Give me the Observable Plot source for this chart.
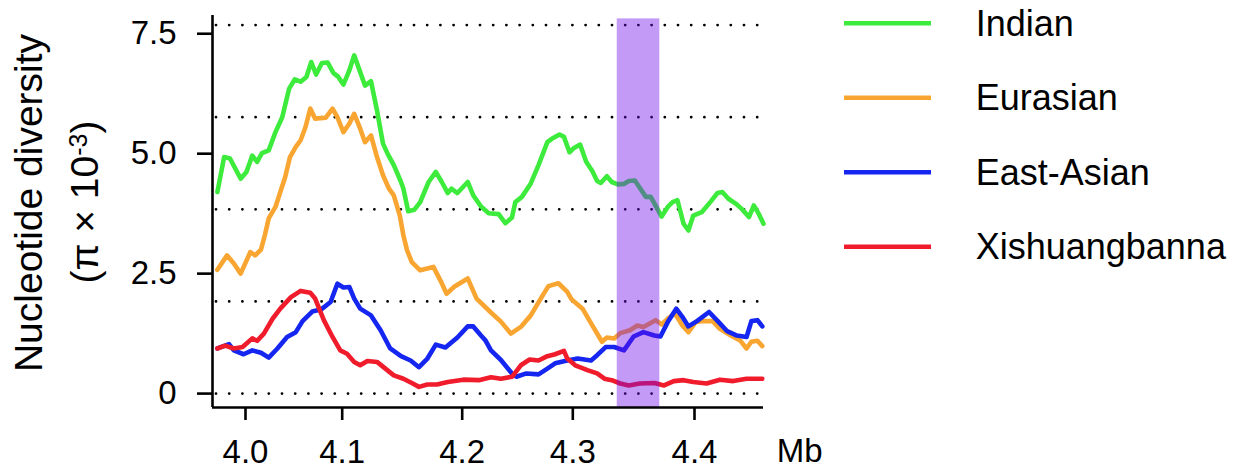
<!DOCTYPE html>
<html>
<head>
<meta charset="utf-8">
<script src="https://cdn.jsdelivr.net/npm/d3@7"></script>
<script src="https://cdn.jsdelivr.net/npm/@observablehq/plot@0.6"></script>
<style>
  html, body { margin: 0; padding: 0; background: #fff; }
  #chart svg { display: block; }
</style>
</head>
<body>
<div id="chart"></div>
<script>
// Populations and their line colours (legend order = drawing order)
const populations = ["Indian", "Eurasian", "East-Asian", "Xishuangbanna"];
const lineColors = ["#3deb3d", "#f9a532", "#1426ef", "#f01c2c"];

// Sliding-window nucleotide diversity (pi x 10^-3) along the chromosome (Mb)
const indianMb = [3.971,3.978,3.984,3.995,4.001,4.007,4.012,4.017,4.024,4.031,4.038,4.045,4.051,4.057,4.063,4.068,4.073,4.079,4.085,4.091,4.096,4.101,4.106,4.110,4.115,4.119,4.124,4.129,4.134,4.138,4.143,4.149,4.151,4.155,4.160,4.165,4.172,4.178,4.183,4.188,4.191,4.196,4.205,4.210,4.217,4.224,4.233,4.239,4.245,4.248,4.254,4.262,4.269,4.277,4.281,4.288,4.292,4.297,4.301,4.306,4.311,4.316,4.320,4.323,4.328,4.332,4.337,4.342,4.346,4.351,4.355,4.360,4.364,4.368,4.373,4.378,4.382,4.386,4.391,4.395,4.399,4.406,4.413,4.419,4.423,4.428,4.434,4.439,4.445,4.449,4.453,4.457];
const indianPi = [4.20,4.93,4.90,4.48,4.62,4.96,4.83,5.01,5.07,5.45,5.76,6.35,6.55,6.50,6.60,6.91,6.65,6.89,6.90,6.68,6.60,6.44,6.74,7.05,6.70,6.42,6.51,5.90,5.21,4.99,4.76,4.41,4.27,3.80,3.83,3.99,4.41,4.62,4.41,4.18,4.27,4.18,4.41,4.13,3.90,3.76,3.74,3.55,3.67,3.99,4.10,4.38,4.76,5.24,5.31,5.40,5.35,5.03,5.12,5.19,4.83,4.64,4.43,4.39,4.53,4.41,4.36,4.37,4.43,4.44,4.29,4.10,4.10,3.92,3.69,3.89,3.99,4.03,3.54,3.40,3.71,3.78,3.99,4.18,4.20,4.06,3.96,3.85,3.68,3.92,3.75,3.54];

const eurasianMb = [3.971,3.981,3.988,3.995,4.005,4.010,4.016,4.020,4.024,4.031,4.036,4.041,4.046,4.052,4.057,4.062,4.067,4.072,4.083,4.090,4.095,4.101,4.106,4.110,4.115,4.119,4.124,4.129,4.134,4.139,4.143,4.148,4.151,4.154,4.158,4.165,4.176,4.182,4.187,4.193,4.205,4.213,4.226,4.235,4.244,4.253,4.262,4.271,4.278,4.287,4.295,4.299,4.308,4.316,4.324,4.328,4.334,4.339,4.347,4.353,4.358,4.368,4.373,4.378,4.384,4.390,4.395,4.401,4.406,4.415,4.421,4.430,4.438,4.443,4.447,4.452,4.456];
const eurasianPi = [2.58,2.88,2.71,2.50,2.95,2.88,3.00,3.30,3.65,3.89,4.20,4.51,4.93,5.14,5.28,5.55,5.94,5.73,5.75,5.94,5.76,5.45,5.63,5.83,5.52,5.24,5.38,4.93,4.55,4.27,4.13,3.71,3.30,2.99,2.74,2.57,2.64,2.35,2.08,2.22,2.40,1.98,1.69,1.50,1.25,1.39,1.63,1.98,2.24,2.30,2.12,1.96,1.77,1.42,1.08,1.17,1.15,1.26,1.32,1.42,1.39,1.53,1.44,1.56,1.67,1.42,1.28,1.49,1.51,1.51,1.35,1.21,1.10,0.94,1.08,1.10,0.99];

const eastAsianMb = [3.971,3.976,3.983,3.988,3.998,4.007,4.016,4.024,4.033,4.043,4.052,4.059,4.069,4.078,4.088,4.095,4.101,4.106,4.110,4.115,4.124,4.132,4.140,4.149,4.157,4.164,4.171,4.178,4.186,4.196,4.205,4.210,4.217,4.221,4.226,4.235,4.245,4.249,4.258,4.269,4.277,4.284,4.295,4.304,4.315,4.320,4.327,4.334,4.342,4.350,4.358,4.367,4.372,4.378,4.385,4.390,4.395,4.402,4.412,4.420,4.427,4.435,4.443,4.447,4.452,4.456];
const eastAsianPi = [0.94,0.98,1.03,0.90,0.82,0.90,0.85,0.75,0.94,1.18,1.28,1.51,1.71,1.75,1.91,2.29,2.21,2.22,1.98,1.77,1.63,1.32,0.94,0.78,0.69,0.55,0.73,1.02,0.96,1.17,1.40,1.40,1.21,1.11,0.90,0.70,0.42,0.35,0.42,0.40,0.52,0.63,0.69,0.73,0.69,0.80,0.97,0.97,0.90,1.19,1.28,1.21,1.19,1.49,1.77,1.60,1.40,1.51,1.70,1.49,1.30,1.21,1.18,1.51,1.53,1.40];

const xishuangbannaMb = [3.971,3.979,3.988,3.997,4.007,4.012,4.019,4.028,4.036,4.047,4.057,4.067,4.072,4.081,4.090,4.098,4.104,4.110,4.115,4.121,4.129,4.136,4.143,4.151,4.158,4.164,4.171,4.179,4.188,4.201,4.215,4.226,4.235,4.245,4.253,4.261,4.269,4.277,4.284,4.292,4.295,4.302,4.312,4.320,4.326,4.332,4.339,4.346,4.355,4.367,4.375,4.383,4.391,4.399,4.410,4.421,4.432,4.443,4.456];
const xishuangbannaPi = [0.94,1.00,0.94,0.97,1.15,1.10,1.25,1.56,1.77,2.01,2.14,2.10,1.98,1.53,1.18,0.90,0.83,0.66,0.59,0.68,0.66,0.52,0.38,0.31,0.22,0.14,0.19,0.19,0.24,0.29,0.28,0.34,0.31,0.35,0.59,0.71,0.69,0.78,0.82,0.89,0.73,0.59,0.49,0.42,0.31,0.28,0.21,0.17,0.21,0.22,0.17,0.26,0.28,0.24,0.21,0.29,0.26,0.31,0.31];

// Axis ticks, dotted reference levels and the highlighted candidate region
const xTicks = [4.0, 4.1, 4.2, 4.3, 4.4];
const yTicks = [0, 2.5, 5.0, 7.5];
const referenceLevels = [0, 1.92, 3.84, 5.76, 7.68];
const regionStartMb = 4.3365;
const regionEndMb = 4.3715;
const regionTopPi = 7.81;

const seriesMb = [indianMb, eurasianMb, eastAsianMb, xishuangbannaMb];
const seriesPi = [indianPi, eurasianPi, eastAsianPi, xishuangbannaPi];
const rows = populations.flatMap((population, k) =>
  seriesMb[k].map((mb, i) => ({population, mb, pi: seriesPi[k][i]}))
);

const yDomain = [-0.29, 7.88];
// window positions are unevenly spaced along the axis, so the Mb scale is piecewise
const xDomain = [3.966, 4.0, 4.1, 4.2, 4.3, 4.4, 4.457];

const font = "'Liberation Sans', Arial, Helvetica, sans-serif";

const chart = Plot.plot({
  width: 1244,
  height: 469,
  marginLeft: 212,
  marginRight: 481,
  marginTop: 15,
  marginBottom: 62,
  style: {fontFamily: font, fontSize: "33px", color: "#000", background: "#fff"},
  x: {type: "linear", domain: xDomain, range: [212, 245, 341.7, 461.7, 572.3, 694, 763]},
  y: {domain: yDomain},
  color: {domain: populations, range: lineColors},
  marks: [
    Plot.ruleY(referenceLevels, {
      stroke: "#000", strokeWidth: 2.8, strokeDasharray: "0 13.2",
      strokeLinecap: "round", insetLeft: 4, insetRight: 4
    }),
    Plot.line(rows, {
      x: "mb", y: "pi", z: "population", stroke: "population",
      strokeWidth: 4.6, strokeLinejoin: "round", strokeLinecap: "round"
    }),
    Plot.rect([{start: regionStartMb, end: regionEndMb}], {
      x1: "start", x2: "end", y1: yDomain[0], y2: regionTopPi,
      fill: "rgb(111, 9, 235)", fillOpacity: 0.41
    }),
    Plot.ruleX([xDomain[0]], {stroke: "#000", strokeWidth: 2.6}),
    Plot.ruleY([yDomain[0]], {stroke: "#000", strokeWidth: 2.6}),
    Plot.axisY(yTicks, {
      anchor: "left", label: null, tickSize: 15, tickPadding: 21,
      strokeWidth: 2.6, fontSize: 33,
      tickFormat: d => d === 0 ? "0" : d.toFixed(1)
    }),
    Plot.axisX(xTicks, {
      anchor: "bottom", label: null, tickSize: 13, tickPadding: 19,
      strokeWidth: 2.6, fontSize: 33,
      tickFormat: d => d.toFixed(1)
    })
  ]
});

document.getElementById("chart").appendChild(chart);

const svg = d3.select(chart);
const color = chart.scale("color");

// y-axis title (two lines, rotated)
svg.append("text")
  .attr("transform", "translate(41.7,203) rotate(-90)")
  .attr("text-anchor", "middle")
  .attr("font-family", font)
  .attr("font-size", 39)
  .attr("fill", "#000")
  .text("Nucleotide diversity");

const sub = svg.append("text")
  .attr("transform", "translate(98.3,202) rotate(-90)")
  .attr("text-anchor", "middle")
  .attr("font-family", font)
  .attr("font-size", 39)
  .attr("fill", "#000");
sub.append("tspan").text("(\u03c0 \u00d7 10");
sub.append("tspan").attr("font-size", 25).attr("dy", -11).text("-3");
sub.append("tspan").attr("dy", 11).text(")");

// x-axis unit
svg.append("text")
  .attr("x", 776.7)
  .attr("y", 462)
  .attr("text-anchor", "start")
  .attr("font-family", font)
  .attr("font-size", 33)
  .attr("fill", "#000")
  .text("Mb");

// legend
const legend = svg.append("g").attr("text-anchor", "start");
populations.forEach((name, i) => {
  const y = 23.3 + i * 74.5;
  legend.append("line")
    .attr("x1", 844).attr("x2", 931)
    .attr("y1", y).attr("y2", y)
    .attr("stroke", color.apply(name))
    .attr("stroke-width", 4.5);
  legend.append("text")
    .attr("x", 975.7).attr("y", y).attr("dy", "0.35em")
    .attr("text-anchor", "start")
    .attr("font-family", font)
    .attr("font-size", 36)
    .attr("fill", "#000")
    .text(name);
});
</script>
</body>
</html>
